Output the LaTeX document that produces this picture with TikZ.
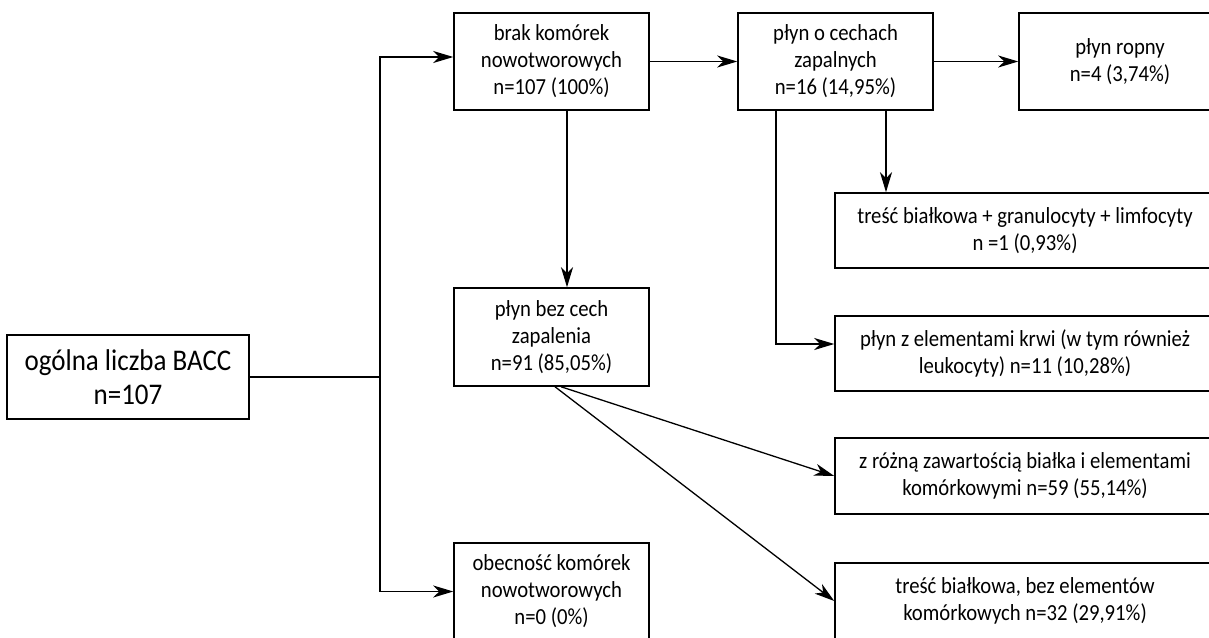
\documentclass[tikz,border=0pt]{standalone}
\usepackage{fontspec}
\setmainfont{Carlito}[FakeStretch=0.9]
\usetikzlibrary{arrows.meta}
\begin{document}
\begin{tikzpicture}[x=1pt,y=-1pt,
  box/.style={draw,line width=1.5pt,align=center,inner sep=0pt,
    font=\fontsize{23}{27}\selectfont},
  conn/.style={line width=1.3pt},
  arr/.style={conn,-{Stealth[length=20pt,width=12pt,inset=6pt]}}]
\useasboundingbox (0,0) rectangle (1209,637);
\clip (0,0) rectangle (1209,637);
\fill[white] (0,0) rectangle (1209,637);
% nodes
\node[box,minimum width=242pt,minimum height=84pt,font=\fontsize{30}{34}\selectfont] (root) at (128,377) {ogólna liczba BACC\\n=107};
\node[box,minimum width=195pt,minimum height=97pt] (brak) at (551.5,61.5) {brak komórek\\nowotworowych\\n=107 (100\%)};
\node[box,minimum width=195pt,minimum height=98pt] (pbc) at (551.5,337) {płyn bez cech\\zapalenia\\n=91 (85,05\%)};
\node[box,minimum width=195pt,minimum height=97pt] (obec) at (551.5,591.5) {obecność komórek\\nowotworowych\\n=0 (0\%)};
\node[box,minimum width=195pt,minimum height=97pt] (poc) at (835.5,61.5) {płyn o cechach\\zapalnych\\n=16 (14,95\%)};
\node[box,minimum width=202pt,minimum height=97pt] (ropny) at (1120,61.5) {płyn ropny\\n=4 (3,74\%)};
\node[box,minimum width=380pt,minimum height=75pt] (tresc1) at (1025,230.5) {treść białkowa + granulocyty + limfocyty\\n =1 (0,93\%)};
\node[box,minimum width=380pt,minimum height=75pt] (krwi) at (1025,353.5) {płyn z elementami krwi (w tym również\\leukocyty) n=11 (10,28\%)};
\node[box,minimum width=380pt,minimum height=76pt] (zrozna) at (1025,476) {z różną zawartością białka i elementami\\komórkowymi n=59 (55,14\%)};
\node[box,minimum width=380pt,minimum height=76pt] (tresc2) at (1025,601) {treść białkowa, bez elementów\\komórkowych n=32 (29,91\%)};
% connectors
\coordinate (j) at (380,377);
\draw[conn] (root.east) -- (j);
\draw[arr] (j) |- ([yshift=4.5pt]brak.west);
\draw[arr] (j) |- (obec.west);
\draw[arr] (brak.east) -- (poc.west);
\draw[arr] (poc.east) -- (ropny.west);
\draw[arr] ([xshift=15.5pt]brak.south) -- ([xshift=15.5pt]brak.south |- pbc.north);
\draw[arr] ([xshift=50.5pt]poc.south) -- ([xshift=50.5pt]poc.south |- tresc1.north);
\draw[arr] ([xshift=-59.5pt]poc.south) |- ([yshift=9.5pt]krwi.west);
\draw[arr] ([xshift=9.5pt]pbc.south) -- (zrozna.west);
\draw[arr] ([xshift=3.5pt]pbc.south) -- (tresc2.west);
\end{tikzpicture}
\end{document}
